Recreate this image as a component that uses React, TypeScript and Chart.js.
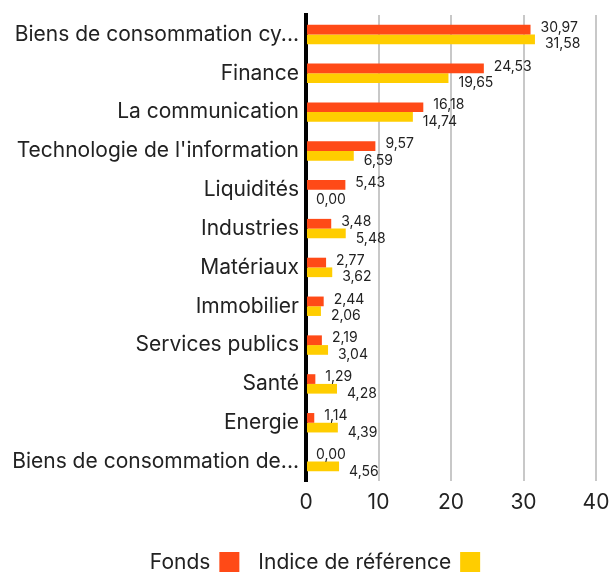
import React, { useEffect, useRef } from "react";
import { Chart, registerables } from "chart.js";

Chart.register(...registerables);

const categories = [
  "Biens de consommation cy...",
  "Finance",
  "La communication",
  "Technologie de l'information",
  "Liquidités",
  "Industries",
  "Matériaux",
  "Immobilier",
  "Services publics",
  "Santé",
  "Energie",
  "Biens de consommation de...",
];
const fondsValues = [30.97, 24.53, 16.18, 9.57, 5.43, 3.48, 2.77, 2.44, 2.19, 1.29, 1.14, 0.0];
const indiceValues = [31.58, 19.65, 14.74, 6.59, 0.0, 5.48, 3.62, 2.06, 3.04, 4.28, 4.39, 4.56];
const seriesNames = ["Fonds", "Indice de référence"];
const seriesColors = ["#ff4a17", "#ffcd00"];
const xTicks = [0, 10, 20, 30, 40];

const FONT = "Inter, 'Noto Sans', sans-serif";
const TEXT = "#222222";

const fmt = (v: number) => v.toFixed(2).replace(".", ",");

const labelPlugin = {
  id: "valueLabels",
  afterDatasetsDraw(chart: any) {
    const ctx = chart.ctx;
    ctx.save();
    ctx.font = `14px ${FONT}`;
    ctx.fillStyle = TEXT;
    ctx.textAlign = "left";
    ctx.textBaseline = "middle";
    chart.data.datasets.forEach((ds: any, di: number) => {
      const meta = chart.getDatasetMeta(di);
      meta.data.forEach((el: any, i: number) => {
        const v = ds.data[i];
        const dy = di === 0 ? -2 : 5;
        ctx.fillText(fmt(v), el.x + 10, el.y + dy);
      });
    });
    ctx.restore();
  },
};

const legendPlugin = {
  id: "customLegend",
  afterDraw(chart: any) {
    const ctx = chart.ctx;
    ctx.save();
    ctx.font = `21px ${FONT}`;
    ctx.textBaseline = "middle";
    ctx.textAlign = "left";
    const box = 20;
    const gapText = 9;
    const gapItem = 19;
    const widths = seriesNames.map((n) => ctx.measureText(n).width);
    const total = widths.reduce((a, w) => a + w + gapText + box, 0) + gapItem * (seriesNames.length - 1);
    let x = 315 - total / 2;
    const yc = 562;
    seriesNames.forEach((n, i) => {
      ctx.fillStyle = TEXT;
      ctx.fillText(n, x, yc + 1);
      x += widths[i] + gapText;
      ctx.fillStyle = seriesColors[i];
      ctx.fillRect(x, yc - box / 2, box, box);
      x += box + gapItem;
    });
    ctx.restore();
  },
};

export default function App() {
  const ref = useRef<HTMLCanvasElement>(null);
  useEffect(() => {
    if (!ref.current) return;
    const chart = new Chart(ref.current, {
      type: "bar",
      data: {
        labels: categories,
        datasets: [
          {
            label: seriesNames[0],
            data: fondsValues,
            backgroundColor: seriesColors[0],
            categoryPercentage: 0.5,
            barPercentage: 1,
          },
          {
            label: seriesNames[1],
            data: indiceValues,
            backgroundColor: seriesColors[1],
            categoryPercentage: 0.5,
            barPercentage: 1,
          },
        ],
      },
      options: {
        indexAxis: "y",
        animation: false,
        responsive: true,
        maintainAspectRatio: false,
        layout: { padding: { top: 15, right: 0, left: 0, bottom: 0 } },
        plugins: {
          legend: { display: false },
          tooltip: { enabled: false },
        },
        scales: {
          x: {
            min: 0,
            max: 40,
            afterBuildTicks: (scale: any) => {
              scale.ticks = xTicks.map((v) => ({ value: v }));
            },
            afterFit: (scale: any) => {
              scale.height = 96;
              scale.paddingRight = 13;
            },
            grid: {
              color: "#c8c8c8",
              lineWidth: 2,
              drawTicks: false,
            },
            border: { display: false },
            ticks: {
              color: TEXT,
              font: { family: FONT, size: 21 },
              padding: 9,
            },
          },
          y: {
            afterFit: (scale: any) => {
              scale.width = 306;
              scale.paddingTop = 0;
              scale.paddingBottom = 0;
            },
            grid: { display: false, drawTicks: false },
            border: { display: true, color: "#000000", width: 4 },
            ticks: {
              color: TEXT,
              font: { family: FONT, size: 21 },
              padding: 7,
              autoSkip: false,
            },
          },
        },
      },
      plugins: [labelPlugin, legendPlugin],
    });
    return () => chart.destroy();
  }, []);
  return (
    <div style={{ position: "absolute", left: 0, top: 0, width: 609, height: 577 }}>
      <canvas ref={ref} />
    </div>
  );
}
